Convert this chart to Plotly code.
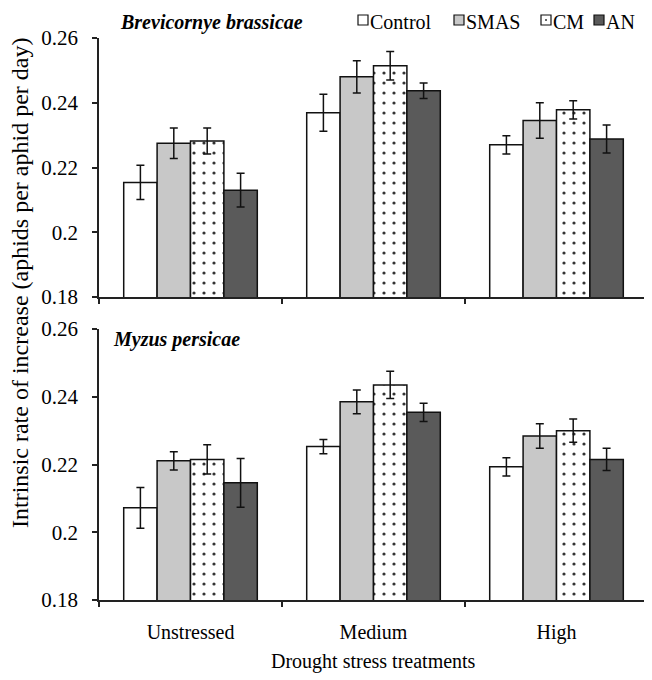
import plotly.graph_objects as go

# ---------------- data ----------------
categories = ["Unstressed", "Medium", "High"]
series_names = ["Control", "SMAS", "CM", "AN"]

brevicoryne_control = [0.2154, 0.2369, 0.2270]
brevicoryne_smas = [0.2275, 0.2480, 0.2345]
brevicoryne_cm = [0.2282, 0.2514, 0.2378]
brevicoryne_an = [0.2130, 0.2437, 0.2288]
brevicoryne_control_err = [0.0053, 0.0057, 0.0028]
brevicoryne_smas_err = [0.0047, 0.0050, 0.0055]
brevicoryne_cm_err = [0.0040, 0.0044, 0.0028]
brevicoryne_an_err = [0.0052, 0.0024, 0.0043]

myzus_control = [0.2072, 0.2253, 0.2193]
myzus_smas = [0.2211, 0.2385, 0.2284]
myzus_cm = [0.2215, 0.2435, 0.2300]
myzus_an = [0.2146, 0.2354, 0.2215]
myzus_control_err = [0.0060, 0.0021, 0.0027]
myzus_smas_err = [0.0027, 0.0035, 0.0036]
myzus_cm_err = [0.0043, 0.0040, 0.0034]
myzus_an_err = [0.0072, 0.0027, 0.0033]

y_tick_values = [0.18, 0.20, 0.22, 0.24, 0.26]
y_tick_labels = ["0.18", "0.2", "0.22", "0.24", "0.26"]
y_range = [0.18, 0.26]

panel_titles = ["Brevicornye brassicae", "Myzus persicae"]
x_title = "Drought stress treatments"
y_title = "Intrinsic rate of increase (aphids per aphid per day)"

# ---------------- styles ----------------
FAM = "Liberation Serif"
OFF = 8  # page body margin offset
W, H = 652 - OFF, 680 - OFF
ML, MR, MT, MB = 99 - OFF, 4, 38 - OFF, 80
PW, PH = W - ML - MR, H - MT - MB
fills = {"Control": "#ffffff", "SMAS": "#c8c8c8", "CM": "#ffffff", "AN": "#5a5a5a"}
outline = "#111111"


def px_x(px):
    return (px - OFF - ML) / PW


def px_y(py):
    return (H - MB - (py - OFF)) / PH


def f(size):
    return dict(family=FAM, size=size, color="black")


top_domain = [px_y(297), 1.0]
bot_domain = [0.0, px_y(329)]

fig = go.Figure()

panels = [
    ("x", "y", [brevicoryne_control, brevicoryne_smas, brevicoryne_cm, brevicoryne_an],
     [brevicoryne_control_err, brevicoryne_smas_err, brevicoryne_cm_err, brevicoryne_an_err]),
    ("x2", "y2", [myzus_control, myzus_smas, myzus_cm, myzus_an],
     [myzus_control_err, myzus_smas_err, myzus_cm_err, myzus_an_err]),
]

for pi, (xa, ya, vals, errs) in enumerate(panels):
    for name, v, e in zip(series_names, vals, errs):
        marker = dict(color=fills[name], line=dict(color=outline, width=1.5))
        if name == "CM":
            marker["pattern"] = dict(shape=".", size=10, solidity=0.08,
                                     fgcolor="#333333", bgcolor="#ffffff",
                                     fillmode="replace")
        fig.add_trace(go.Bar(
            x=categories, y=v, name=name, xaxis=xa, yaxis=ya,
            marker=marker, showlegend=False,
            error_y=dict(type="data", array=e, visible=True,
                         color="#111111", thickness=1.5, width=4),
        ))

axis_common = dict(showline=True, linecolor="#222222", linewidth=1.5,
                   ticks="outside", ticklen=5, tickwidth=1.5, tickcolor="#222222",
                   showgrid=False, zeroline=False)

fig.update_layout(
    width=W, height=H,
    margin=dict(l=ML, r=MR, t=MT, b=MB),
    paper_bgcolor="white", plot_bgcolor="white",
    font=f(20),
    barmode="group", bargap=0.27, bargroupgap=0,
    xaxis=dict(domain=[0, 1], anchor="y", type="category", range=[-0.5, 2.5],
               tickson="boundaries", showticklabels=False, **axis_common),
    yaxis=dict(domain=top_domain, anchor="x", range=y_range,
               tickvals=y_tick_values, ticktext=y_tick_labels,
               ticklabelstandoff=10, tickfont=f(21), **axis_common),
    xaxis2=dict(domain=[0, 1], anchor="y2", type="category", range=[-0.5, 2.5],
                tickson="boundaries", ticklabelstandoff=13,
                tickfont=f(20), **axis_common),
    yaxis2=dict(domain=bot_domain, anchor="x2", range=y_range,
                tickvals=y_tick_values, ticktext=y_tick_labels,
                ticklabelstandoff=10, tickfont=f(21), **axis_common),
)

TOP_Y = 10  # top edge (page px) of the header texts

annotations = [
    dict(text=f"<b><i>{panel_titles[0]}</i></b>", x=px_x(119), y=px_y(TOP_Y),
         xanchor="left", yanchor="top", font=f(20)),
    dict(text=f"<b><i>{panel_titles[1]}</i></b>", x=px_x(112), y=px_y(340),
         xanchor="left", yanchor="middle", font=f(20)),
    dict(text=x_title, x=0.5, y=px_y(661), xanchor="center", yanchor="middle",
         font=f(20)),
    dict(text=y_title, x=px_x(20), y=px_y(283), xanchor="center", yanchor="middle",
         textangle=-90, font=f(24)),
]

# legend (manual key: squares + labels)
legend_pos = [("Control", 358), ("SMAS", 454), ("CM", 541), ("AN", 594)]
shapes = []
for name, lx in legend_pos:
    shapes.append(dict(type="rect", xref="paper", yref="paper",
                       x0=px_x(lx), x1=px_x(lx + 10), y0=px_y(25), y1=px_y(15),
                       fillcolor=fills[name], line=dict(color=outline, width=1.2)))
    if name == "CM":
        shapes.append(dict(type="circle", xref="paper", yref="paper",
                           x0=px_x(lx + 4), x1=px_x(lx + 6), y0=px_y(21), y1=px_y(19),
                           fillcolor="#333333", line=dict(width=0)))
    annotations.append(dict(text=name, x=px_x(lx + 11), y=px_y(TOP_Y),
                            xanchor="left", yanchor="top", font=f(20)))

for a in annotations:
    a.update(xref="paper", yref="paper", showarrow=False, borderpad=0)

fig.update_layout(annotations=annotations, shapes=shapes)

fig.write_html("out.html")
